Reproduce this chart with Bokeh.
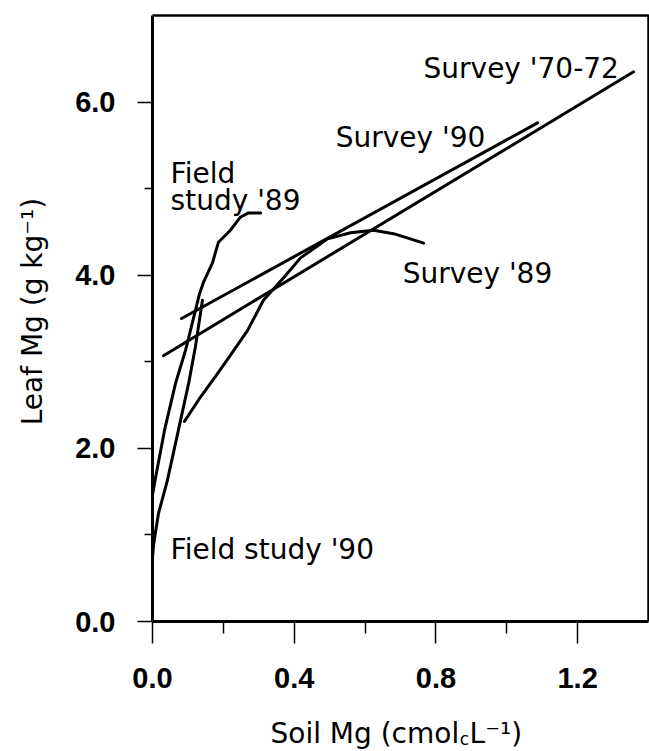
import math
from bokeh.plotting import figure
from bokeh.models import FixedTicker, NumeralTickFormatter, ColumnDataSource
from bokeh.core.properties import value
from bokeh.embed import file_html
from bokeh.resources import INLINE

# ---- data ----
survey_7072_x = [0.031, 1.358]
survey_7072_y = [3.07, 6.35]

survey_90_x = [0.082, 1.087]
survey_90_y = [3.50, 5.76]

survey_89_x = [0.090, 0.135, 0.183, 0.229, 0.268, 0.313, 0.370, 0.418, 0.494, 0.559, 0.624, 0.680, 0.728, 0.765]
survey_89_y = [2.31, 2.59, 2.86, 3.13, 3.36, 3.71, 3.97, 4.20, 4.42, 4.49, 4.52, 4.48, 4.42, 4.37]

field_89_x = [0.0, 0.008, 0.034, 0.065, 0.093, 0.107, 0.121, 0.133, 0.144, 0.169, 0.186, 0.220, 0.248, 0.271, 0.305]
field_89_y = [1.46, 1.65, 2.21, 2.75, 3.13, 3.36, 3.59, 3.79, 3.92, 4.14, 4.38, 4.52, 4.67, 4.72, 4.72]

field_90_x = [0.0, 0.003, 0.008, 0.017, 0.042, 0.079, 0.102, 0.121, 0.141]
field_90_y = [0.74, 0.88, 1.02, 1.25, 1.63, 2.32, 2.75, 3.17, 3.71]

x_min, x_max = 0.0, 1.4
y_min, y_max = 0.0, 7.0

x_ticks = [0.0, 0.4, 0.8, 1.2]
x_minor = [0.2, 0.6, 1.0]
y_ticks = [0.0, 2.0, 4.0, 6.0]
y_minor = [1.0, 3.0, 5.0]

label_text = ["Survey '70-72", "Survey '90", "Field", "study '89", "Survey '89", "Field study '90"]
label_x = [0.765, 0.517, 0.051, 0.051, 0.706, 0.051]
label_y = [6.39, 5.59, 5.18, 4.86, 4.02, 0.83]

# x-axis title pieces (main text, subscript, rest)
xtitle_text = ["Soil Mg (cmol", "c", "L\u207b\u00b9)"]
xtitle_x = [0.333, 0.867, 0.895]
xtitle_y = [-1.294, -1.352, -1.294]
xtitle_size = ["28px", "17px", "28px"]

ytitle_text = ["Leaf Mg (g kg\u207b\u00b9)"]
ytitle_x = [-0.339]
ytitle_y = [3.58]

FONT = "DejaVu Sans"
TICK_FONT = "Liberation Sans"

# ---- layout: the plot area spans the whole canvas; axes sit at fixed locations ----
W, H = 649, 750
LEFT, TOP, PW, PH = 152, 15, 496, 606          # plot box in canvas pixels
sx = PW / (x_max - x_min)
sy = PH / (y_max - y_min)
xr = (x_min - LEFT / sx, x_min + (W - LEFT) / sx)
yr = (y_max - (H - TOP) / sy, y_max + TOP / sy)

p = figure(width=W, height=H, x_range=xr, y_range=yr,
           output_backend="svg", toolbar_location=None,
           min_border_left=0, min_border_right=0, min_border_top=0, min_border_bottom=0)

p.background_fill_color = "white"
p.border_fill_color = "white"
p.outline_line_color = None
p.xgrid.visible = False
p.ygrid.visible = False

for ax in (p.xaxis[0], p.yaxis[0]):
    ax.axis_line_color = "black"
    ax.axis_line_width = 3
    ax.major_tick_line_color = "black"
    ax.minor_tick_line_color = "black"
    ax.major_tick_line_width = 1.5
    ax.minor_tick_line_width = 1.5
    ax.major_tick_in = 0
    ax.minor_tick_in = 0
    ax.major_label_text_font = TICK_FONT
    ax.major_label_text_font_style = "bold"
    ax.major_label_text_font_size = "29px"
    ax.major_label_text_color = "black"
    ax.formatter = NumeralTickFormatter(format="0.0")

p.xaxis.ticker = FixedTicker(ticks=x_ticks, minor_ticks=x_minor)
p.yaxis.ticker = FixedTicker(ticks=y_ticks, minor_ticks=y_minor)
p.xaxis.fixed_location = y_min
p.yaxis.fixed_location = x_min
p.xaxis.bounds = (x_min, x_max)
p.yaxis.bounds = (y_min, y_max)
p.xaxis.major_tick_out = 22
p.xaxis.minor_tick_out = 12
p.yaxis.major_tick_out = 15
p.yaxis.minor_tick_out = 8
p.xaxis.major_label_standoff = 24
p.yaxis.major_label_standoff = 22

# ---- frame top and right edges ----
p.line([x_min, x_max, x_max], [y_max, y_max, y_min], line_color="black", line_width=2.5)

# ---- curves ----
for xs, ys in [(survey_7072_x, survey_7072_y), (survey_90_x, survey_90_y),
               (survey_89_x, survey_89_y), (field_89_x, field_89_y),
               (field_90_x, field_90_y)]:
    p.line(xs, ys, line_color="black", line_width=3, line_cap="round", line_join="round")

# ---- curve labels ----
src = ColumnDataSource(dict(x=label_x, y=label_y, text=label_text))
p.text(x="x", y="y", text="text", source=src, text_font=value(FONT),
       text_font_size=value("28px"), text_color="black",
       text_align="left", text_baseline="alphabetic")

# ---- axis titles ----
tsrc = ColumnDataSource(dict(x=xtitle_x, y=xtitle_y, text=xtitle_text, size=xtitle_size))
p.text(x="x", y="y", text="text", source=tsrc, text_font=value(FONT),
       text_font_size="size", text_color="black",
       text_align="left", text_baseline="alphabetic")

ysrc = ColumnDataSource(dict(x=ytitle_x, y=ytitle_y, text=ytitle_text))
p.text(x="x", y="y", text="text", source=ysrc, text_font=value(FONT),
       text_font_size=value("28px"), text_color="black", angle=math.pi / 2,
       text_align="center", text_baseline="alphabetic")

open("out.html", "w").write(file_html(p, INLINE))
